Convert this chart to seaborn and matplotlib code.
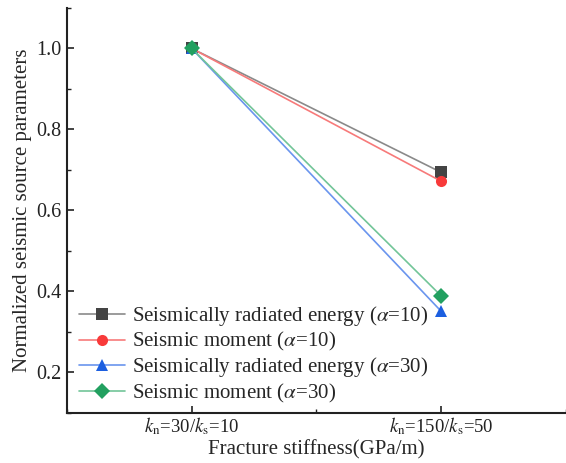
import numpy as np
import pandas as pd
import matplotlib
matplotlib.use("Agg")
import matplotlib.pyplot as plt
from matplotlib.ticker import MultipleLocator
import seaborn as sns

sns.set_theme(style="ticks")
plt.rcParams["font.family"] = ["Liberation Serif", "DejaVu Serif"]
plt.rcParams["mathtext.fontset"] = "stix"

# data
stiffness = [1, 2]
stiffness_labels = [r"$k_\mathrm{n}$=30/$k_\mathrm{s}$=10",
                    r"$k_\mathrm{n}$=150/$k_\mathrm{s}$=50"]
energy_a10 = [1.0, 0.694]
moment_a10 = [1.0, 0.672]
energy_a30 = [1.0, 0.351]
moment_a30 = [1.0, 0.389]

series = [r"Seismically radiated energy ($\alpha$=10)",
          r"Seismic moment ($\alpha$=10)",
          r"Seismically radiated energy ($\alpha$=30)",
          r"Seismic moment ($\alpha$=30)"]
colors = ["#444444", "#f83a3a", "#1c5fe0", "#22a060"]
line_colors = ["#8a8a8a", "#f77a7a", "#6a95ee", "#72c598"]
markers = ["s", "o", "^", "D"]

df = pd.concat([
    pd.DataFrame({"x": stiffness, "y": vals, "series": name})
    for name, vals in zip(series, [energy_a10, moment_a10, energy_a30, moment_a30])
])

fig = plt.figure(figsize=(5.66, 4.63), dpi=100)
ax = fig.add_axes([0.118, 0.108, 0.882, 0.875])

sns.lineplot(data=df, x="x", y="y", hue="series", style="series",
             hue_order=series, style_order=series,
             palette=dict(zip(series, colors)),
             markers=dict(zip(series, markers)),
             dashes=False, linewidth=1.2, markersize=8,
             markeredgewidth=0, legend=False, ax=ax)
# lighter connecting lines, solid markers
for ln, lc, mc in zip(ax.lines, line_colors, colors):
    ln.set_color(lc)
    ln.set_markerfacecolor(mc)
    ln.set_markeredgecolor(mc)

ax.set_xlim(0.5, 2.5)
ax.set_ylim(0.1, 1.1)
ax.set_xticks(stiffness)
ax.set_xticklabels(stiffness_labels)
ax.xaxis.set_minor_locator(MultipleLocator(0.5))
ax.set_yticks([0.2, 0.4, 0.6, 0.8, 1.0])
ax.set_yticklabels(["0.2", "0.4", "0.6", "0.8", "1.0"])
ax.yaxis.set_minor_locator(MultipleLocator(0.1))

ax.tick_params(axis="y", which="major", labelsize=14.5, pad=4)
ax.tick_params(axis="x", which="major", labelsize=13.5, pad=2)
ax.tick_params(which="major", direction="in", length=5, width=1.2,
               colors="#222222")
ax.tick_params(which="minor", direction="in", length=3, width=1.0,
               colors="#222222")
for s in ["top", "right"]:
    ax.spines[s].set_visible(False)
for s in ["left", "bottom"]:
    ax.spines[s].set_linewidth(1.5)
    ax.spines[s].set_color("#222222")

ax.set_xlabel("Fracture stiffness(GPa/m)", fontsize=15, labelpad=2)
ax.set_ylabel("Normalized seismic source parameters", fontsize=15, labelpad=3)

ax.legend(ax.lines, series, loc="lower left", bbox_to_anchor=(0.0, -0.01),
          frameon=False, fontsize=15, handlelength=2.2, handletextpad=0.35,
          labelspacing=0.1, borderaxespad=0.2)

fig.savefig("out.png", dpi=100)
